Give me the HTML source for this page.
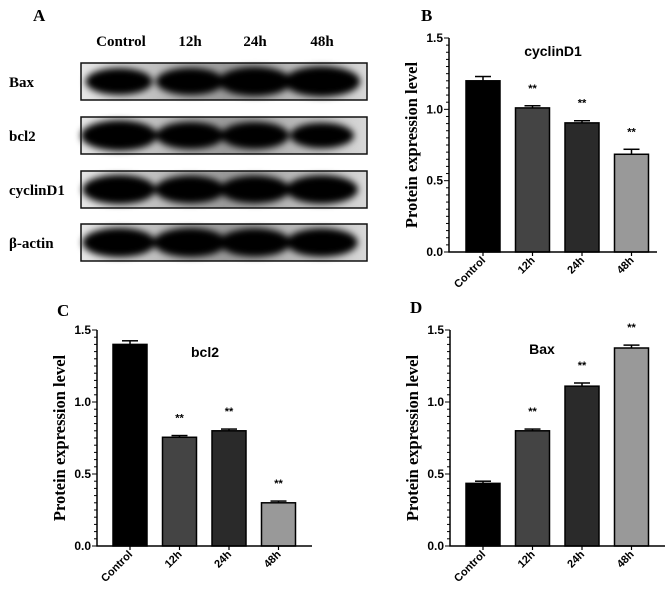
<!DOCTYPE html>
<html><head><meta charset="utf-8"><style>
body{margin:0;background:#fff;width:669px;height:590px;overflow:hidden}
svg{display:block}
.ser{font-family:"Liberation Serif",serif;font-weight:bold}
.san{font-family:"Liberation Sans",sans-serif;font-weight:bold}
</style></head><body>
<svg id="fig" width="669" height="590" viewBox="0 0 669 590" xmlns="http://www.w3.org/2000/svg">
<defs>
<filter id="blur" x="-30%" y="-50%" width="160%" height="200%"><feGaussianBlur stdDeviation="3.5"/></filter>
<linearGradient id="bg" x1="0" x2="1"><stop offset="0" stop-color="#e8e8e8"/><stop offset="0.5" stop-color="#9a9a9a"/><stop offset="1" stop-color="#d8d8d8"/></linearGradient>
</defs>
<text class="ser" x="33" y="21" font-size="17">A</text>
<text class="ser" x="421" y="21" font-size="17">B</text>
<text class="ser" x="57" y="316" font-size="17">C</text>
<text class="ser" x="410" y="313" font-size="17">D</text>
<g id="blot"></g>
<g id="charts"></g>
</svg>
<script>
const NS="http://www.w3.org/2000/svg";
function mk(tag,attrs,parent,txt){const e=document.createElementNS(NS,tag);for(const k in attrs)e.setAttribute(k,attrs[k]);if(txt!==undefined)e.textContent=txt;parent.appendChild(e);return e;}

// Blot
const lanes=["Control","12h","24h","48h"];
const proteins=["Bax","bcl2","cyclinD1","β-actin"];
const bandStrength=[[0.95,0.97,1.05,1.1],[1.1,0.97,0.97,0.9],[1.05,1.0,1.0,1.03],[1.05,1.05,1.02,1.02]];
const blot=document.getElementById('blot');
const laneX=[121,190,255,322], rowY=[63,117,171,224];
lanes.forEach((l,i)=>{const t=mk('text',{x:laneX[i],y:46,'text-anchor':'middle','font-size':15,class:'ser'},blot,l);

});
proteins.forEach((p,r)=>{
 const t=mk('text',{x:9,y:rowY[r]+24,'font-size':15,class:'ser'},blot,p);
 
 
 const g=mk('g',{},blot);
 
 
 mk('rect',{x:81,y:rowY[r],width:286,height:37,fill:'url(#bg)'},g);
 const cg=mk('g',{filter:'url(#blur)'},g);
 bandStrength[r].forEach((s,i)=>{
  const e=mk('ellipse',{cx:laneX[i]+(i==0?-2:0),cy:rowY[r]+18.5,rx:31*s+4,ry:12*s+2,fill:'#000'},cg);
  
  
 });
 mk('rect',{x:81,y:rowY[r],width:286,height:37,fill:'none',stroke:'#111','stroke-width':1.5},g);
});

// Charts
const categories=["Control","12h","24h","48h"];
const cyclinVals=[1.20,1.01,0.905,0.685];
const cyclinErr=[0.03,0.015,0.015,0.035];
const bcl2Vals=[1.40,0.755,0.80,0.30];
const bcl2Err=[0.025,0.012,0.012,0.012];
const baxVals=[0.435,0.80,1.11,1.375];
const baxErr=[0.015,0.012,0.022,0.02];
const yTicks=[0,0.5,1.0,1.5];
const yTickLabels=["0.0","0.5","1.0","1.5"];
const barColors=["#000","#444","#2a2a2a","#999"];

function chart(id,title,vals,errs,ax,top,bot,xEnd,bx0,titleX,titleY){
 const g=mk('g',{},document.getElementById('charts'));
 
 
 const y=v=>bot-(v/1.5)*(bot-top);
 const x=i=>bx0+i*49.5;
 const bw=34;
 vals.forEach((v,i)=>{
  const eb=mk('g',{},g);
  
  
  mk('line',{x1:x(i)+bw/2,x2:x(i)+bw/2,y1:y(v),y2:y(v+errs[i]),stroke:'#000','stroke-width':1.5},eb);
  mk('line',{x1:x(i)+bw/2-8,x2:x(i)+bw/2+8,y1:y(v+errs[i]),y2:y(v+errs[i]),stroke:'#000','stroke-width':1.5},eb);
  const r=mk('rect',{x:x(i),y:y(v),width:bw,height:bot-y(v),fill:barColors[i],stroke:'#000','stroke-width':1.5},g);
  
  
  if(i>0){const s=mk('text',{x:x(i)+bw/2,y:y(v+errs[i])-14,'text-anchor':'middle','font-size':11,class:'san'},g,'**');
   
   }
  mk('line',{x1:x(i)+bw/2,x2:x(i)+bw/2,y1:bot,y2:bot+4,stroke:'#000','stroke-width':1.2},g);
  const tl=mk('text',{x:x(i)+bw/2+3,y:bot+9,'text-anchor':'end','font-size':11,class:'san',transform:`rotate(-45 ${x(i)+bw/2+3} ${bot+9})`},g,categories[i]);
  
  
 });
 const axl=mk('path',{d:`M${ax} ${top} V${bot} H${xEnd}`,fill:'none',stroke:'#000','stroke-width':1.5},g);
 
 
 for(let k=0;k<=30;k++){const v=k*0.05;const maj=k%10==0;
  mk('line',{x1:ax-(maj?5:3),x2:ax,y1:y(v),y2:y(v),stroke:'#000','stroke-width':1},g);}
 yTicks.forEach((v,i)=>{const t=mk('text',{x:ax-6,y:y(v)+4,'text-anchor':'end','font-size':12,class:'san'},g,yTickLabels[i]);
  
  });
 const cy=(top+bot)/2;
 const yt=mk('text',{x:ax-32,y:cy,'text-anchor':'middle','font-size':16.5,class:'ser',transform:`rotate(-90 ${ax-32} ${cy})`},g,'Protein expression level');
 
 
 const tt=mk('text',{x:titleX,y:titleY,'text-anchor':'middle','font-size':14,class:'san'},g,title);
 
 
}
chart('chart-cyclind1','cyclinD1',cyclinVals,cyclinErr,449,38,252,657,466,553,56);
chart('chart-bcl2','bcl2',bcl2Vals,bcl2Err,97,330,546,312,113,205,357);
chart('chart-bax','Bax',baxVals,baxErr,450,330,546,665,466,542,354);
</script>
</body></html>
